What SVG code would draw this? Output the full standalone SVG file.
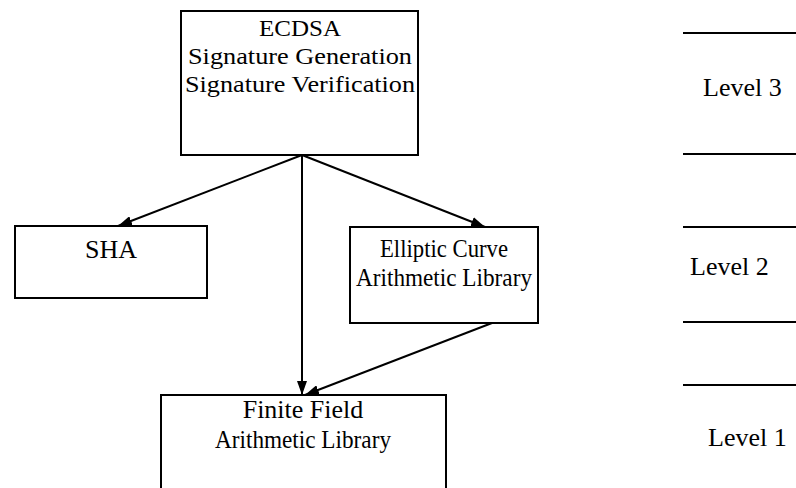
<svg xmlns="http://www.w3.org/2000/svg" width="796" height="488" viewBox="0 0 796 488">
<style>
.box{fill:#fff;stroke:#000;stroke-width:2}
.t{font-family:"Liberation Serif","Times New Roman",serif;font-size:26px;fill:#000;text-anchor:middle}
.te{font-family:"Liberation Serif","Times New Roman",serif;font-size:24px;fill:#000;text-anchor:middle}
.lv{font-family:"Liberation Serif","Times New Roman",serif;font-size:26px;fill:#000}
.edge{stroke:#000;stroke-width:2;fill:none;marker-end:url(#ah)}
.rule{stroke:#000;stroke-width:2}
</style>
<defs>
<marker id="ah" viewBox="0 0 14 10" refX="14" refY="5" markerWidth="14" markerHeight="10" markerUnits="userSpaceOnUse" orient="auto" preserveAspectRatio="none">
<path d="M0,0 L14,5 L0,10 z" fill="#000"/>
</marker>
</defs>
<rect width="796" height="488" fill="#fff"/>
<g id="connectors">
<line class="edge" x1="302" y1="155" x2="118" y2="226"/>
<line class="edge" x1="302" y1="155" x2="485" y2="227"/>
<line class="edge" x1="302" y1="155" x2="302" y2="395"/>
<line class="edge" x1="492" y1="323" x2="305" y2="395"/>
</g>
<g id="ecdsa">
<rect class="box" x="181" y="11" width="237" height="144"/>
<text class="te" x="300" y="36" textLength="82" lengthAdjust="spacingAndGlyphs">ECDSA</text>
<text class="te" x="300" y="64" textLength="224" lengthAdjust="spacingAndGlyphs">Signature Generation</text>
<text class="te" x="300" y="92" textLength="230" lengthAdjust="spacingAndGlyphs">Signature Verification</text>
</g>
<g id="sha">
<rect class="box" x="15" y="226" width="192" height="72"/>
<text class="t" x="111" y="258">SHA</text>
</g>
<g id="ec">
<rect class="box" x="350" y="227" width="188" height="96"/>
<text class="t" x="444" y="257" textLength="128" lengthAdjust="spacingAndGlyphs">Elliptic Curve</text>
<text class="t" x="444" y="286" textLength="176" lengthAdjust="spacingAndGlyphs">Arithmetic Library</text>
</g>
<g id="ff">
<rect class="box" x="161" y="395" width="285" height="100"/>
<text class="t" x="303" y="418">Finite Field</text>
<text class="t" x="303" y="448" textLength="176" lengthAdjust="spacingAndGlyphs">Arithmetic Library</text>
</g>
<g id="levels">
<line class="rule" x1="683" y1="33" x2="796" y2="33"/>
<line class="rule" x1="683" y1="154" x2="796" y2="154"/>
<line class="rule" x1="683" y1="227" x2="796" y2="227"/>
<line class="rule" x1="683" y1="322" x2="796" y2="322"/>
<line class="rule" x1="683" y1="385" x2="796" y2="385"/>
<text class="lv" x="703" y="96">Level 3</text>
<text class="lv" x="690" y="275">Level 2</text>
<text class="lv" x="708" y="446">Level 1</text>
</g>
</svg>
